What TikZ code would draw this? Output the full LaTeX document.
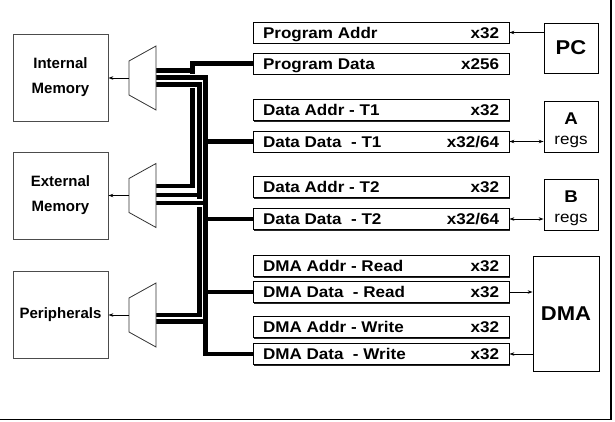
\documentclass[tikz,border=0pt]{standalone}
\usepackage{fontspec}
\setmainfont{Liberation Sans}
\newfontfamily\lblfont[FakeStretch=1.1]{Liberation Sans}
\usetikzlibrary{arrows.meta,shadows}
\newcommand\lbltxt[2]{\makebox[236pt][l]{#1\hfill #2}}
\begin{document}
\begin{tikzpicture}[x=1pt,y=-1pt,
  lbox/.style={draw, line width=0.8pt, minimum width=256pt, minimum height=21pt, inner sep=0pt,
    text height=11.2pt, text depth=0pt, fill=white,
    font=\lblfont\fontsize{15.5}{18}\selectfont\bfseries,
    drop shadow={shadow xshift=1.1pt, shadow yshift=-1.1pt, fill=black!85, opacity=1}},
  mbox/.style={draw=black!70, line width=0.8pt, minimum width=95pt, minimum height=87pt,
    align=center, font=\fontsize{15}{25}\selectfont\bfseries},
  rbox/.style={draw, line width=0.8pt, minimum width=54pt, minimum height=51pt, inner sep=0pt},
  bus/.style={line width=4.8pt},
  busw/.style={line width=4.8pt, preaction={draw=white, line width=7.4pt}},
  arr/.style={line width=0.8pt, -{Stealth[length=5pt,width=3.5pt]}},
  darr/.style={line width=0.8pt, {Stealth[length=5pt,width=3.5pt]}-{Stealth[length=5pt,width=3.5pt]}},
  mux/.style={draw=black!80, line width=0.8pt, fill=white},
  bigtxt/.style={font=\lblfont\fontsize{17}{17}\selectfont\bfseries, inner sep=0pt, anchor=base},
  regtxt/.style={font=\lblfont\fontsize{15.5}{16}\selectfont, inner sep=0pt, anchor=base},
]
\useasboundingbox (0,0) rectangle (615,421);

% bus label boxes
\node[lbox] (pa)  at (381,32.5)  {\lbltxt{Program Addr}{x32}};
\node[lbox] (pd)  at (381,63.5)  {\lbltxt{Program Data}{x256}};
\node[lbox] (d1a) at (381,110)   {\lbltxt{Data Addr - T1}{x32}};
\node[lbox] (d1d) at (381,141.5) {\lbltxt{Data Data\ \ - T1}{x32/64}};
\node[lbox] (d2a) at (381,187)   {\lbltxt{Data Addr - T2}{x32}};
\node[lbox] (d2d) at (381,219)   {\lbltxt{Data Data\ \ - T2}{x32/64}};
\node[lbox] (dra) at (381,266)   {\lbltxt{DMA Addr - Read}{x32}};
\node[lbox] (drd) at (381,292)   {\lbltxt{DMA Data\ \ - Read}{x32}};
\node[lbox] (dwa) at (381,327)   {\lbltxt{DMA Addr - Write}{x32}};
\node[lbox] (dwd) at (381,354)   {\lbltxt{DMA Data\ \ - Write}{x32}};

% memory boxes
\node[mbox] (im) at (60.5,77.5)  {Internal\\Memory};
\node[mbox] (em) at (60.5,195.5) {External\\Memory};
\node[mbox] (pe) at (60.5,314.5) {Peripherals};

% right side boxes
\node[rbox, minimum height=50pt, font=\lblfont\fontsize{20}{20}\selectfont\bfseries] (pc) at (571,48) {PC};
\node[rbox] (ra) at (571,126.5) {};
\node[bigtxt] (raA) at (571,124) {A};
\node[regtxt] (raR) at (571,144.2) {regs};
\node[rbox] (rb) at (571,204.5) {};
\node[bigtxt] (rbB) at (571,202.5) {B};
\node[regtxt] (rbR) at (571,222) {regs};
\node[rbox, minimum width=66pt, minimum height=115pt, font=\lblfont\fontsize{20}{20}\selectfont\bfseries] (dma) at (566,313.5) {DMA};

% bus coordinates
\coordinate (Px) at (192.5,0);
\coordinate (Ax) at (199.5,0);
\coordinate (Bx) at (205.5,0);
\coordinate (mr1a) at (156,70.5);
\coordinate (mr1b) at (156,77.5);
\coordinate (mr1c) at (156,84.5);
\coordinate (mr2a) at (156,186);
\coordinate (mr2b) at (156,195);
\coordinate (mr2c) at (156,203);
\coordinate (mr3a) at (156,315);
\coordinate (mr3b) at (156,321.5);

% program data bus
\draw[bus] (pd.west) -- (pd.west -| Px) -- (mr2a -| Px) -- (mr2a);
\draw[bus] (mr1a -| Px) -- (mr1a);
% data bus B
\draw[busw] (mr1b) -- (mr1b -| Bx) -- (dwd.west -| Bx) -- (dwd.west);
% bus A
\draw[busw] (mr1c) -- (mr1c -| Ax) -- (mr3a -| Ax) -- (mr3a);
% external memory lines
\draw[bus] (mr2b) -- (mr2b -| Ax);
\draw[white, line width=7.4pt] (mr2c) -- ([xshift=-2.6pt]mr2c -| Bx);
\draw[bus] (mr2c) -- (mr2c -| Bx);
% peripherals second line
\draw[bus] (mr3b) -- (mr3b -| Bx);
% data lines from right
\draw[bus] (d1d.west) -- (d1d.west -| Bx);
\draw[bus] (d2d.west) -- (d2d.west -| Bx);
\draw[bus] (drd.west) -- (drd.west -| Bx);

% muxes
\foreach \n/\y in {1/78,2/195.5,3/315}{
  \draw[mux] (129,\y-17) -- (156,\y-32) -- (156,\y+32) -- (129,\y+17) -- cycle;
  \coordinate (mux\n) at (129,\y);
}
\draw[arr] (mux1) -- (mux1 -| im.east);
\draw[arr] (mux2) -- (mux2 -| em.east);
\draw[arr] (mux3) -- (mux3 -| pe.east);

% thin connectors on the right
\draw[arr] (pc.west |- pa.east) -- (pa.east);
\draw[darr] (d1d.east) -- (d1d.east -| ra.west);
\draw[darr] (d2d.east) -- (d2d.east -| rb.west);
\draw[arr] (drd.east) -- (drd.east -| dma.west);
\draw[arr] (dwd.east -| dma.west) -- (dwd.east);

% frame
\draw[line width=1.6pt] (0,419.6) -- (611.2,419.6) -- (611.2,0);
\end{tikzpicture}
\end{document}
